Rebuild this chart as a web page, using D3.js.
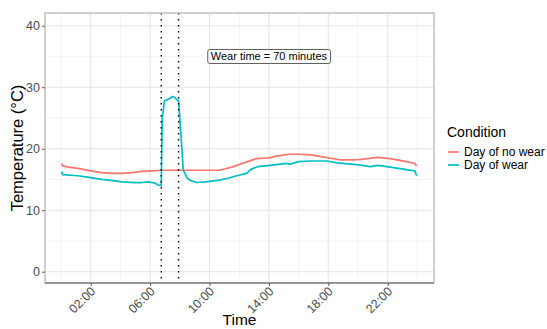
<!DOCTYPE html>
<html>
<head>
<meta charset="utf-8">
<script src="https://cdn.jsdelivr.net/npm/d3@7"></script>
<style>
body{margin:0;background:#fff;}
text{font-family:"Liberation Sans",Arial,sans-serif;}
</style>
</head>
<body>
<svg id="chart" width="547" height="329"></svg>
<script>
const seriesNames = ["Day of no wear", "Day of wear"];
const seriesColors = ["#F8766D", "#00BFC4"];

const noWearTimes = ["00:03","00:06","00:30","01:08","02:00","02:44","03:30","04:05","04:45","05:26","06:10","06:45","07:30","08:30","09:30","10:40","11:30","12:20","13:10","14:00","14:30","15:20","16:00","16:50","17:50","18:45","19:55","20:40","21:20","22:10","23:15","23:50","23:57"];
const noWearTemps = [17.6,17.2,17.0,16.8,16.4,16.1,16.0,16.0,16.1,16.3,16.4,16.5,16.5,16.5,16.5,16.5,17.0,17.7,18.4,18.5,18.8,19.1,19.1,19.0,18.6,18.2,18.2,18.4,18.6,18.4,17.9,17.6,17.2];

const wearTimes = ["00:03","00:06","01:08","02:00","02:44","03:30","04:05","05:00","05:26","05:53","06:20","06:33","06:45","06:49","06:58","07:05","07:20","07:31","07:40","07:48","07:55","08:05","08:14","08:30","08:45","09:08","09:45","10:40","11:15","11:50","12:30","12:45","13:15","14:05","15:10","15:25","16:00","16:50","17:55","18:35","19:55","20:50","21:20","22:10","23:15","23:50","23:57"];
const wearTemps = [16.3,15.8,15.6,15.3,15.0,14.8,14.6,14.5,14.5,14.6,14.4,14.1,14.0,25.0,27.8,27.9,28.2,28.5,28.3,28.0,27.8,22.0,16.5,15.2,14.8,14.5,14.6,14.9,15.2,15.6,16.0,16.6,17.1,17.3,17.6,17.5,17.9,18.0,18.0,17.7,17.4,17.1,17.3,17.0,16.6,16.4,15.6];

const wearStart = "06:45";
const wearEnd = "07:55";
const annotationText = "Wear time = 70 minutes";
const annotationTime = "14:00";
const annotationTemp = 35;

const xTickLabels = ["02:00","06:00","10:00","14:00","18:00","22:00"];
const xMinorLabels = ["00:00","04:00","08:00","12:00","16:00","20:00","24:00"];
const yTicks = [0,10,20,30,40];
const yMinor = [5,15,25,35];

const toH = s => { const [h,m] = s.split(":").map(Number); return h + m/60; };

const svg = d3.select("#chart");
const L = 45, R = 434, T = 13, B = 283;
const x = d3.scaleLinear().domain([-1.08, 25.12]).range([L, R]);
const y = d3.scaleLinear().domain([-1.84, 42.07]).range([B, T]);

// grid
const grid = svg.append("g");
xMinorLabels.forEach(t => grid.append("line").attr("x1", x(toH(t))).attr("x2", x(toH(t))).attr("y1", T).attr("y2", B).attr("stroke", "#EBEBEB").attr("stroke-width", 0.6));
yMinor.forEach(v => grid.append("line").attr("x1", L).attr("x2", R).attr("y1", y(v)).attr("y2", y(v)).attr("stroke", "#EBEBEB").attr("stroke-width", 0.6));
xTickLabels.forEach(t => grid.append("line").attr("x1", x(toH(t))).attr("x2", x(toH(t))).attr("y1", T).attr("y2", B).attr("stroke", "#E5E5E5").attr("stroke-width", 1.1));
yTicks.forEach(v => grid.append("line").attr("x1", L).attr("x2", R).attr("y1", y(v)).attr("y2", y(v)).attr("stroke", "#E5E5E5").attr("stroke-width", 1.1));

// lines
const line = d3.line().x(d => x(d[0])).y(d => y(d[1]));
const series = [
  noWearTimes.map((t, i) => [toH(t), noWearTemps[i]]),
  wearTimes.map((t, i) => [toH(t), wearTemps[i]])
];
series.forEach((s, i) => {
  svg.append("path").datum(s).attr("d", line).attr("fill", "none")
    .attr("stroke", seriesColors[i]).attr("stroke-width", 1.7).attr("stroke-linejoin", "round");
});

// wear lines
[wearStart, wearEnd].forEach(t => {
  svg.append("line").attr("x1", x(toH(t))).attr("x2", x(toH(t))).attr("y1", T).attr("y2", B)
    .attr("stroke", "#000").attr("stroke-width", 1.4).attr("stroke-dasharray", "1.4,4.6");
});

// annotation
const ann = svg.append("g");
const annText = ann.append("text").attr("x", x(toH(annotationTime))).attr("y", y(annotationTemp) + 4)
  .attr("text-anchor", "middle").attr("font-size", 11).attr("fill", "#000").text(annotationText);
const bb = annText.node().getBBox();
ann.insert("rect", "text").attr("x", bb.x - 3).attr("y", y(annotationTemp) - 7).attr("width", bb.width + 6).attr("height", 14)
  .attr("rx", 2).attr("fill", "#fff").attr("stroke", "#333").attr("stroke-width", 0.8);

// border
svg.append("rect").attr("x", L).attr("y", T).attr("width", R - L).attr("height", B - T)
  .attr("fill", "none").attr("stroke", "#BDBDBD").attr("stroke-width", 1.4);
svg.append("line").attr("x1", L).attr("x2", R).attr("y1", B).attr("y2", B).attr("stroke", "#5A5A5A").attr("stroke-width", 1);

// axes
const xAxis = d3.axisBottom(x).tickValues(xTickLabels.map(toH)).tickSize(3).tickFormat((d, i) => xTickLabels[i]);
const gx = svg.append("g").attr("transform", `translate(0,${B})`).call(xAxis);
gx.select(".domain").remove();
gx.selectAll(".tick line").attr("stroke", "#5A5A5A");
gx.selectAll(".tick text").attr("font-size", 12.5).attr("fill", "#4D4D4D")
  .attr("text-anchor", "end").attr("dy", null).attr("y", 0)
  .attr("transform", "translate(5,9) rotate(-45)");

const yAxis = d3.axisLeft(y).tickValues(yTicks).tickSize(3);
const gy = svg.append("g").attr("transform", `translate(${L},0)`).call(yAxis);
gy.select(".domain").remove();
gy.selectAll(".tick line").attr("stroke", "#5A5A5A");
gy.selectAll(".tick text").attr("font-size", 12.5).attr("fill", "#4D4D4D").attr("x", -5);

// titles
svg.append("text").attr("transform", `translate(23,${(T + B) / 2}) rotate(-90)`)
  .attr("text-anchor", "middle").attr("font-size", 16.5).attr("fill", "#000").text("Temperature (°C)");
svg.append("text").attr("x", (L + R) / 2).attr("y", 325).attr("text-anchor", "middle")
  .attr("font-size", 15.5).attr("fill", "#000").text("Time");

// legend
const lg = svg.append("g");
lg.append("text").attr("x", 447).attr("y", 137).attr("font-size", 14).attr("fill", "#000").text("Condition");
seriesNames.forEach((n, i) => {
  const yy = 152 + i * 13;
  lg.append("line").attr("x1", 448).attr("x2", 459).attr("y1", yy).attr("y2", yy).attr("stroke", seriesColors[i]).attr("stroke-width", 1.7);
  lg.append("text").attr("x", 464).attr("y", yy + 4).attr("font-size", 12).attr("fill", "#000").text(n);
});
</script>
</body>
</html>
